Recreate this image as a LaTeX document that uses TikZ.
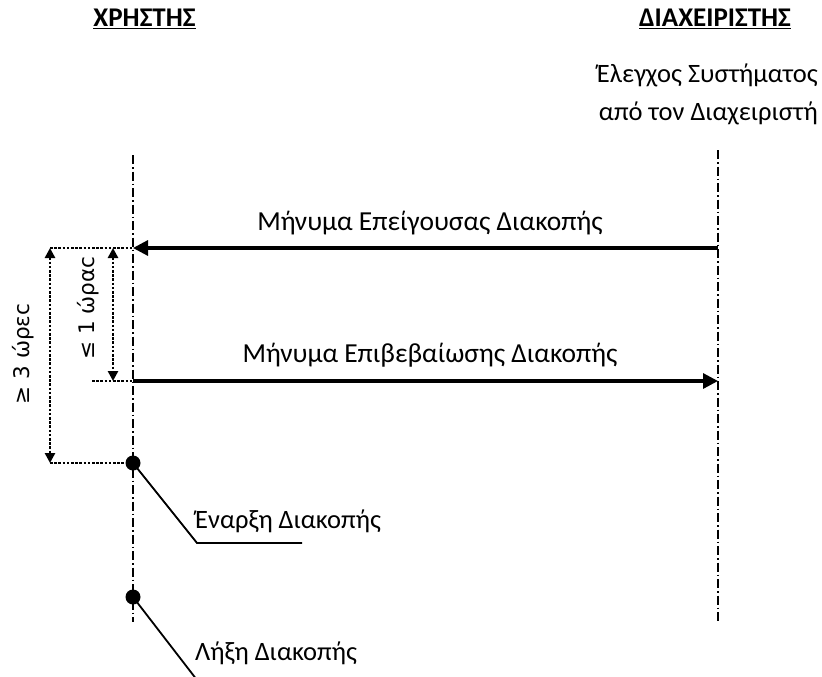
\documentclass[tikz,border=0pt]{standalone}
\usepackage{fontspec}
\setmainfont{Carlito}
\newfontfamily\dejavu{DejaVu Sans}
\usetikzlibrary{arrows.meta}
\tikzset{
  lifeline/.style={line width=1.6pt, dash pattern=on 9pt off 3pt on 1.5pt off 3pt},
  msg/.style={line width=3.2pt, -{Triangle[length=15pt,width=15pt]}},
  dimline/.style={line width=2.6pt, dash pattern=on 2.6pt off 1.6pt},
  dimarrow/.style={line width=2.6pt, dash pattern=on 2.6pt off 1.6pt, {Triangle[length=10pt,width=10pt]}-{Triangle[length=10pt,width=10pt]}},
  txt/.style={font=\fontsize{26.5}{30}\selectfont, inner sep=0pt},
  msgtxt/.style={font=\fontsize{27.5}{30}\selectfont, inner sep=0pt},
  head/.style={font=\fontsize{27}{30}\selectfont\bfseries, inner sep=0pt},
  dimlabel/.style={font=\dejavu\fontsize{21.5}{26}\selectfont, inner sep=0pt, rotate=90},
  event/.style={circle, fill=black, minimum size=15pt, inner sep=0pt},
  lead/.style={line width=1.8pt}
}
\begin{document}
\begin{tikzpicture}[x=1pt,y=-1pt]
\useasboundingbox (0,0) rectangle (822,677);
% headers
\node[head, anchor=base] (h1) at (144.5,27) {\underline{ΧΡΗΣΤΗΣ}};
\node[head, anchor=base] (h2) at (715,27) {\underline{ΔΙΑΧΕΙΡΙΣΤΗΣ}};
\node[txt, anchor=base east] (c1) at (818,83) {Έλεγχος Συστήματος};
\node[txt, anchor=base east] (c2) at (818,120) {από τον Διαχειριστή};
% lifelines
\coordinate (Ltop) at (133,155);
\coordinate (Lbot) at (133,622);
\coordinate (Rtop) at (718,150);
\coordinate (Rbot) at (718,622);
\draw[lifeline] (Ltop) -- (Lbot);
\draw[lifeline] (Rtop) -- (Rbot);
% messages
\coordinate (m1s) at (718,248);
\coordinate (m1e) at (133,248);
\coordinate (m2s) at (133,381);
\coordinate (m2e) at (718,381);
\draw[msg] (m1s) -- (m1e);
\draw[msg] (m2s) -- (m2e);
\node[msgtxt, anchor=base] (l1) at (430,230) {Μήνυμα Επείγουσας Διακοπής};
\node[msgtxt, anchor=base] (l2) at (430,362) {Μήνυμα Επιβεβαίωσης Διακοπής};
% events
\node[event] (e1) at (133,463) {};
\node[event] (e2) at (133,597) {};
\coordinate (k1) at (197,543);
\coordinate (k1e) at (302,543);
\coordinate (k2) at (197,680);
\draw[lead] (e1.center) -- (k1) -- (k1e);
\draw[lead] (e2.center) -- (k2);
\node[txt, anchor=base west] (t1) at (195,528) {Έναρξη Διακοπής};
\node[txt, anchor=base west] (t2) at (195,660) {Λήξη Διακοπής};
% dimension lines
\coordinate (d1a) at (50,248);
\coordinate (d1b) at (50,463);
\coordinate (d2a) at (113,248);
\coordinate (d2b) at (113,381);
\coordinate (g2) at (92,381);
\draw[dimline] (d1a) -- (m1e);
\draw[dimline] (g2) -- (m2s);
\draw[dimline] (d1b) -- (e1);
\draw[dimarrow] (d1a) -- (d1b);
\draw[dimarrow] (d2a) -- (d2b);
\node[dimlabel] (dl1) at (23,354) {≥ 3 ώρεϲ};
\node[dimlabel] (dl2) at (88,308) {≤ 1 ώραϲ};
\end{tikzpicture}
\end{document}
